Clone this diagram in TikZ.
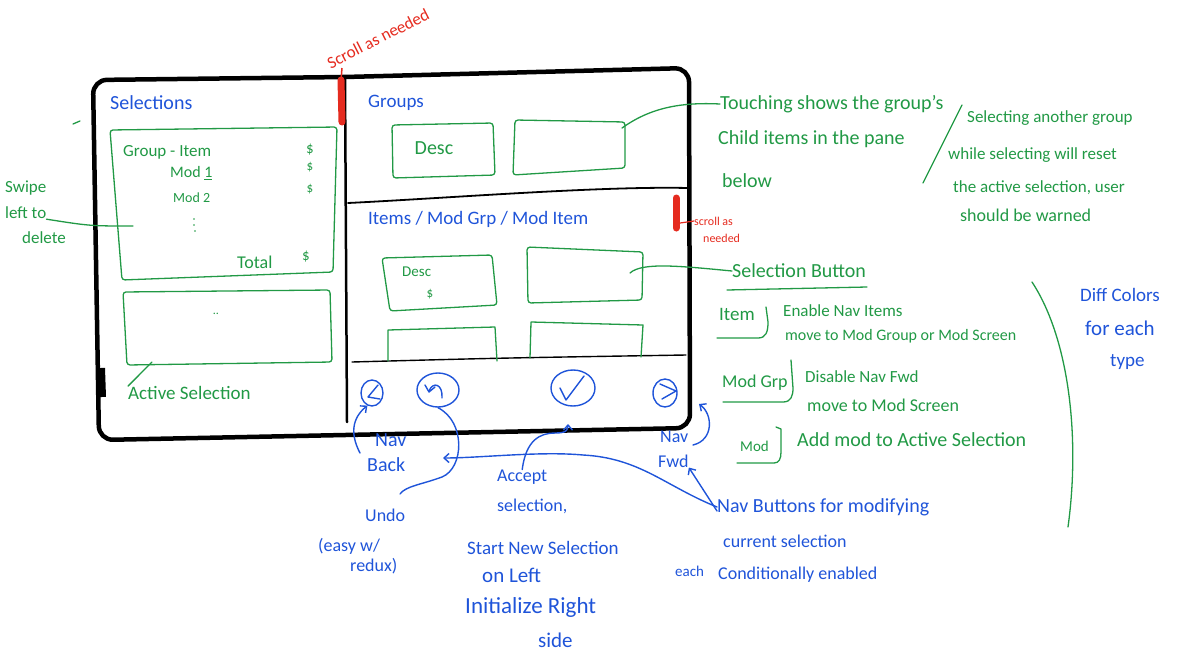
\documentclass[tikz,border=0pt]{standalone}
\usepackage{fontspec}
\setmainfont{Carlito}
\usetikzlibrary{arrows.meta,shapes.geometric}
\newlength{\du}
\setlength{\du}{1pt}
\newcommand{\txtsize}[1]{\fontsize{#1}{#1}\selectfont}
\definecolor{penblack}{rgb}{0.000000, 0.000000, 0.000000}
\definecolor{pengreen}{rgb}{0.130000, 0.600000, 0.270000}
\definecolor{penblue}{rgb}{0.120000, 0.330000, 0.850000}
\definecolor{penred}{rgb}{0.900000, 0.170000, 0.120000}
\tikzset{
  frameline/.style={draw=penblack, line width=4.5\du, line join=round, rounded corners=14\du},
  paneline/.style={draw=penblack, line width=1.8\du, line cap=round},
  greenline/.style={draw=pengreen, line width=1.3\du, line cap=round, line join=round},
  greenbox/.style={greenline, rounded corners=3\du},
  blueline/.style={draw=penblue, line width=1.4\du, line cap=round, line join=round},
  bluearrow/.style={blueline, -{Straight Barb[length=5pt,width=9pt]}},
  navbtn/.style={ellipse, draw=penblue, line width=1.4\du, inner sep=0pt},
  redbar/.style={draw=penred, line width=7\du, line cap=round},
  gtext/.style={text=pengreen, inner sep=0pt, font=\txtsize{16}},
  btext/.style={text=penblue, inner sep=0pt, font=\txtsize{18}},
  rtext/.style={text=penred, inner sep=0pt, font=\txtsize{12}},
}

\begin{document}
\begin{tikzpicture}
\pgftransformxscale{1.000000}
\pgftransformyscale{-1.000000}
\useasboundingbox (0\du,0\du) rectangle (1195\du,670\du);
% tablet frame and panes
\draw[frameline] (99\du,440\du) -- (93\du,80\du) -- (345\du,77\du) -- (689\du,68\du) -- (690\du,428\du) -- cycle;
\draw[penblack, line width=8\du] (101\du,368\du) -- (102\du,397\du);
\draw[paneline, line width=2.5\du] (345\du,77\du) -- (347\du,422\du);
\draw[paneline] (348\du,203\du) .. controls (450\du,198\du) and (600\du,186\du) .. (688\du,188\du);
\draw[paneline, line width=1.4\du] (352\du,362\du) .. controls (500\du,358\du) .. (686\du,355\du);
% scroll bars
\draw[redbar] (341\du,80\du) -- (342\du,122\du);
\draw[penred, line width=1.5\du] (341\du,80\du) -- (342\du,68\du);
\draw[redbar] (676\du,198\du) -- (676\du,228\du);
\node[rtext, font=\txtsize{17}, anchor=west, rotate=27] (scrolltop) at (328\du,64\du) {Scroll as needed};
\node[rtext, anchor=west] (scrollmid1) at (694\du,221\du) {scroll as};
\node[rtext, anchor=west] (scrollmid2) at (703\du,238\du) {needed};
\draw[penred, line width=1.2\du] (680\du,223\du) -- (scrollmid1.west);
% left pane: selections
\node[btext, font=\txtsize{20}, anchor=west] (seltitle) at (110\du,103\du) {Selections};
\draw[greenbox] (110\du,130\du) -- (337\du,127\du) -- (333\du,272\du) -- (122\du,280\du) -- cycle;
\node[gtext, font=\txtsize{17}, anchor=west] (grpitem) at (123\du,152\du) {Group - Item};
\node[gtext, font=\txtsize{16}, anchor=west] (modone) at (170\du,173\du) {Mod \underline{1}};
\node[gtext, font=\txtsize{14}, anchor=west] (modtwo) at (173\du,198\du) {Mod 2};
\fill[pengreen] (194\du,219\du) circle (0.9\du) (194\du,225\du) circle (0.9\du) (195\du,231\du) circle (0.9\du);
\node[gtext, font=\txtsize{18}, anchor=west] (total) at (237\du,262\du) {Total};
\node[gtext, font=\txtsize{15}, anchor=center] (dollarone) at (310\du,150\du) {\$};
\node[gtext, font=\txtsize{13}, anchor=center] (dollartwo) at (310\du,167\du) {\$};
\node[gtext, font=\txtsize{13}, anchor=center] (dollarthree) at (310\du,189\du) {\$};
\node[gtext, font=\txtsize{15}, anchor=center] (dollarfour) at (306\du,257\du) {\$};
\draw[greenbox] (123\du,292\du) -- (330\du,290\du) -- (332\du,362\du) -- (127\du,365\du) -- cycle;
\node[gtext, font=\txtsize{12}, anchor=center] (activedots) at (216\du,314\du) {..};
\node[gtext, font=\txtsize{19}, anchor=west] (active) at (128\du,393\du) {Active Selection};
\coordinate (activebox) at (152\du,362\du);
\draw[greenline] (activebox) -- (active.north west);
\node[gtext, font=\txtsize{17}, anchor=west] (swipeone) at (5\du,188\du) {Swipe};
\node[gtext, font=\txtsize{17}, anchor=west] (swipetwo) at (5\du,213\du) {left to};
\node[gtext, font=\txtsize{17}, anchor=west] (swipethree) at (22\du,238\du) {delete};
\coordinate (swipebox) at (133\du,226\du);
\draw[greenline] (swipetwo.south east) .. controls (90\du,226\du) .. (swipebox);
\draw[greenline] (73\du,124\du) -- (80\du,121\du);
% right pane: groups
\node[btext, font=\txtsize{19}, anchor=west] (grptitle) at (368\du,103\du) {Groups};
\draw[greenbox] (392\du,125\du) -- (493\du,123\du) -- (495\du,175\du) -- (393\du,178\du) -- cycle;
\node[gtext, font=\txtsize{20}, anchor=center] (grpdesc) at (434\du,148\du) {Desc};
\draw[greenbox] (515\du,120\du) -- (625\du,122\du) -- (625\du,168\du) -- (513\du,175\du) -- cycle;
\coordinate (grpbox) at (622\du,128\du);
% right pane: items
\node[btext, font=\txtsize{19}, anchor=west] (itemtitle) at (368\du,219\du) {Items / Mod Grp / Mod Item};
\draw[greenbox] (382\du,258\du) -- (492\du,255\du) -- (497\du,305\du) -- (390\du,311\du) -- cycle;
\node[gtext, font=\txtsize{15}, anchor=west] (itemdesc) at (402\du,272\du) {Desc};
\node[gtext, font=\txtsize{13}, anchor=center] (itemdollar) at (430\du,294\du) {\$};
\draw[greenbox] (527\du,247\du) -- (643\du,252\du) -- (642\du,300\du) -- (528\du,303\du) -- cycle;
\coordinate (itembox) at (630\du,273\du);
\draw[greenline] (388\du,361\du) -- (388\du,330\du) -- (495\du,327\du) -- (497\du,361\du);
\draw[greenline] (530\du,358\du) -- (531\du,322\du) -- (643\du,325\du) -- (641\du,357\du);
% nav buttons
\node[navbtn, minimum width=22\du, minimum height=26\du] (backbtn) at (372\du,393\du) {};
\node[navbtn, minimum width=42\du, minimum height=34\du] (undobtn) at (438\du,390\du) {};
\node[navbtn, minimum width=44\du, minimum height=36\du] (acceptbtn) at (573\du,388\du) {};
\node[navbtn, minimum width=24\du, minimum height=28\du] (fwdbtn) at (665\du,393\du) {};
\draw[blueline] (378\du,385\du) -- (368\du,397\du) -- (380\du,399\du);
\draw[blueline] (442\du,398\du) .. controls (443\du,384\du) and (433\du,381\du) .. (429\du,391\du);
\draw[blueline] (425\du,385\du) -- (429\du,392\du) -- (435\du,387\du);
\draw[blueline] (560\du,388\du) -- (566\du,400\du) -- (584\du,376\du);
\draw[blueline] (660\du,384\du) -- (676\du,391\du) -- (662\du,399\du);
% notes below the frame
\node[btext, font=\txtsize{20}, anchor=west] (navbackone) at (375\du,440\du) {Nav};
\node[btext, font=\txtsize{20}, anchor=west] (navbacktwo) at (367\du,465\du) {Back};
\coordinate (navbackfoot) at (360\du,453\du);
\draw[bluearrow] (navbackfoot) .. controls (350\du,434\du) and (352\du,418\du) .. (backbtn.250);
\node[btext, anchor=west] (undoone) at (365\du,515\du) {Undo};
\node[btext, anchor=west] (undotwo) at (318\du,546\du) {(easy w/};
\node[btext, anchor=west] (undothree) at (350\du,566\du) {redux)};
\coordinate (undotop) at (400\du,494\du);
\draw[blueline] (undobtn.south) .. controls (466\du,422\du) and (464\du,468\du) .. (442\du,477\du) .. controls (420\du,485\du) and (406\du,486\du) .. (undotop);
\node[btext, anchor=west] (acceptone) at (497\du,477\du) {Accept};
\node[btext, anchor=west] (accepttwo) at (497\du,506\du) {selection,};
\node[btext, font=\txtsize{19}, anchor=west] (acceptthree) at (467\du,548\du) {Start New Selection};
\node[btext, font=\txtsize{21}, anchor=west] (acceptfour) at (482\du,575\du) {on Left};
\node[btext, font=\txtsize{23}, anchor=west] (acceptfive) at (465\du,607\du) {Initialize Right};
\node[btext, font=\txtsize{21}, anchor=west] (acceptsix) at (538\du,640\du) {side};
\coordinate (accepttip) at (568\du,424\du);
\draw[bluearrow] (acceptone.north) .. controls (526\du,440\du) and (540\du,433\du) .. (555\du,433\du) .. controls (565\du,433\du) and (568\du,431\du) .. (accepttip);
\node[btext, anchor=west] (navfwdone) at (660\du,437\du) {Nav};
\node[btext, anchor=west] (navfwdtwo) at (658\du,461\du) {Fwd};
\coordinate (fwdfoot) at (693\du,445\du);
\coordinate (fwdtip) at (699\du,404\du);
\draw[bluearrow] (fwdfoot) .. controls (714\du,440\du) and (713\du,414\du) .. (fwdtip);
\node[btext, font=\txtsize{20}, anchor=west] (navbtnone) at (717\du,507\du) {Nav Buttons for modifying};
\node[btext, anchor=west] (navbtntwo) at (723\du,541\du) {current selection};
\node[btext, font=\txtsize{15}, anchor=west] (navbtnthree) at (675\du,571\du) {each};
\node[btext, anchor=west] (navbtnfour) at (718\du,575\du) {Conditionally enabled};
\coordinate (backtip) at (443\du,458\du);
\draw[bluearrow] (navbtnone.west) .. controls (665\du,486\du) and (640\du,458\du) .. (583\du,455\du) .. controls (540\du,451\du) and (480\du,458\du) .. (backtip);
\draw[bluearrow] ([yshift=4\du]navbtnone.west) -- (navfwdtwo.south east);
% notes right of the frame
\node[gtext, font=\txtsize{20}, anchor=west] (touchone) at (720\du,104\du) {Touching shows the group's};
\node[gtext, font=\txtsize{20}, anchor=west] (touchtwo) at (718\du,139\du) {Child items in the pane};
\node[gtext, font=\txtsize{20}, anchor=west] (touchthree) at (722\du,181\du) {below};
\draw[greenline] (grpbox) .. controls (650\du,108\du) and (680\du,102\du) .. (touchone.west);
\draw[greenline] (962\du,105\du) -- (923\du,183\du);
\node[gtext, font=\txtsize{17}, anchor=west] (resetone) at (967\du,118\du) {Selecting another group};
\node[gtext, font=\txtsize{17}, anchor=west] (resettwo) at (948\du,155\du) {while selecting will reset};
\node[gtext, font=\txtsize{17}, anchor=west] (resetthree) at (953\du,188\du) {the active selection, user};
\node[gtext, font=\txtsize{18}, anchor=west] (resetfour) at (960\du,215\du) {should be warned};
\node[gtext, font=\txtsize{20}, anchor=west] (selbtn) at (732\du,271\du) {Selection Button};
\draw[greenline] (727\du,290\du) -- (867\du,287\du);
\draw[greenline] (itembox) .. controls (642\du,262\du) and (680\du,266\du) .. (selbtn.west);
\node[gtext, font=\txtsize{19}, anchor=west] (itemtag) at (719\du,314\du) {Item};
\draw[greenline] (717\du,338\du) -- (758\du,338\du) .. controls (766\du,338\du) and (768\du,332\du) .. (768\du,322\du) -- (766\du,307\du);
\node[gtext, font=\txtsize{17}, anchor=west] (itemone) at (783\du,311\du) {Enable Nav Items};
\node[gtext, font=\txtsize{16}, anchor=west] (itemtwo) at (785\du,336\du) {move to Mod Group or Mod Screen};
\node[gtext, font=\txtsize{18}, anchor=west] (modgrptag) at (722\du,383\du) {Mod Grp};
\draw[greenline] (723\du,402\du) -- (783\du,402\du) .. controls (791\du,402\du) and (793\du,396\du) .. (793\du,388\du) -- (791\du,360\du);
\node[gtext, font=\txtsize{17}, anchor=west] (modgrpone) at (805\du,377\du) {Disable Nav Fwd};
\node[gtext, font=\txtsize{18}, anchor=west] (modgrptwo) at (807\du,405\du) {move to Mod Screen};
\node[gtext, font=\txtsize{15}, anchor=west] (modtag) at (740\du,446\du) {Mod};
\draw[greenline] (737\du,463\du) -- (774\du,463\du) .. controls (779\du,463\du) and (781\du,459\du) .. (781\du,452\du) -- (781\du,429\du) -- (776\du,427\du);
\node[gtext, font=\txtsize{20}, anchor=west] (addmod) at (797\du,440\du) {Add mod to Active Selection};
\draw[greenline] (1032\du,282\du) .. controls (1070\du,340\du) and (1080\du,440\du) .. (1068\du,527\du);
\node[btext, font=\txtsize{19}, anchor=west] (diffone) at (1080\du,295\du) {Diff Colors};
\node[btext, font=\txtsize{21}, anchor=west] (difftwo) at (1085\du,328\du) {for each};
\node[btext, font=\txtsize{19}, anchor=west] (diffthree) at (1110\du,362\du) {type};
\end{tikzpicture}
\end{document}
